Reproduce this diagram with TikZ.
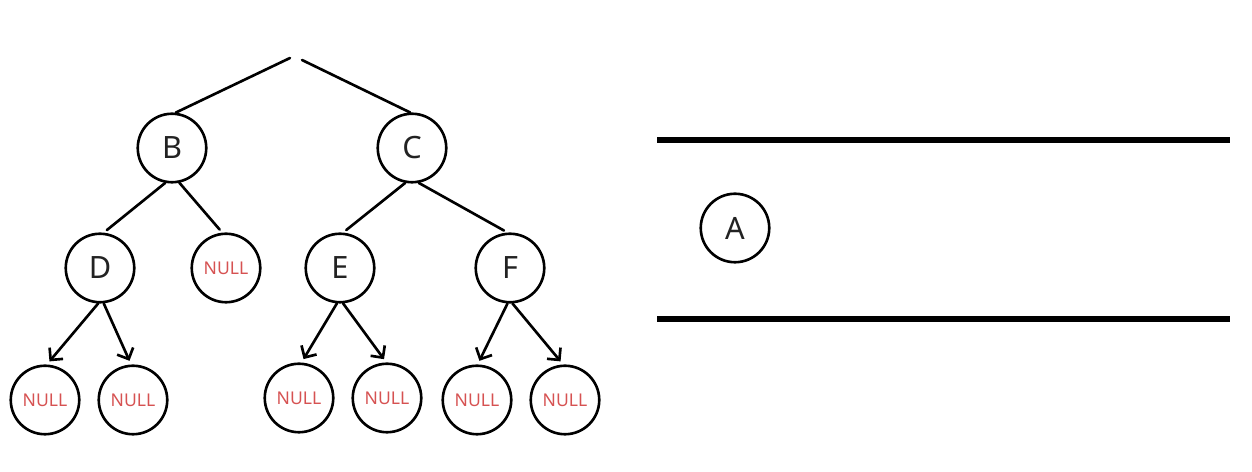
\documentclass[tikz,border=0pt]{standalone}
\usepackage{fontspec}
\setmainfont{Noto Sans}
\usetikzlibrary{arrows.meta, calc}
\definecolor{nullred}{RGB}{214,82,82}
\definecolor{ink}{HTML}{222222}

\begin{document}
\begin{tikzpicture}[x=0.02cm, y=-0.02cm,
	knot/.style={shape=circle, draw=black, line width=1.5pt, minimum size=1.37cm, inner sep=0pt, font=\fontsize{17.5}{17.5}\selectfont, text=ink},
	nullknot/.style={knot, font=\fontsize{10}{10}\selectfont, text=nullred},
	edge/.style={draw=black, line width=1.5pt, line cap=round, shorten >=2.3pt},
	arr/.style={edge, -{Straight Barb[length=5pt, width=10pt, line width=1.5pt]}},
	rail/.style={draw=black, line width=3.2pt}]
			\useasboundingbox (0,0) rectangle (1252,472);
			
			% tree
			\coordinate (rootL) at (290, 58);
			\coordinate (rootR) at (302, 60);
			
			\node[knot] (B) at (172, 148) {B};
			\node[knot] (C) at (412, 148) {C};
			\node[knot] (D) at (100, 268) {D};
			\node[nullknot] (BN) at (226, 268) {NULL};
			\node[knot] (E) at (340, 268) {E};
			\node[knot] (F) at (510, 268) {F};
			
			\foreach \n/\x/\y in {DL/45/400, DR/133/400, EL/299/398, ER/387/398, FL/477/400, FR/565/400}{
				\node[nullknot] (\n) at (\x, \y) {NULL};
			};
			
			\draw[line width=1.5pt, line cap=round] (B.84) -- (rootL);
			\draw[line width=1.5pt, line cap=round] (C.93) -- (rootR);
			
			\draw[edge] (B.259) -- (D.84);
			\draw[edge] (B.282) -- (BN.96);
			\draw[edge] (C.259) -- (E.85);
			\draw[edge] (C.281) -- (F.94);
			
			\foreach \p/\a/\c/\b in {D/267/DL/87, D/276/DR/93, E/265/EL/86, E/275/ER/91, F/266/FL/89, F/274/FR/93}{
				\draw[arr] (\p.\a) -- (\c.\b);
			};
			
			% queue
			\coordinate (Q1) at (657, 140);
			\coordinate (Q2) at (1230, 140);
			\coordinate (Q3) at (657, 319);
			\coordinate (Q4) at (1230, 319);
			\draw[rail] (Q1) -- (Q2);
			\draw[rail] (Q3) -- (Q4);
			
			\node[knot] (A) at (735, 228) {A};
			
\end{tikzpicture}
\end{document}
